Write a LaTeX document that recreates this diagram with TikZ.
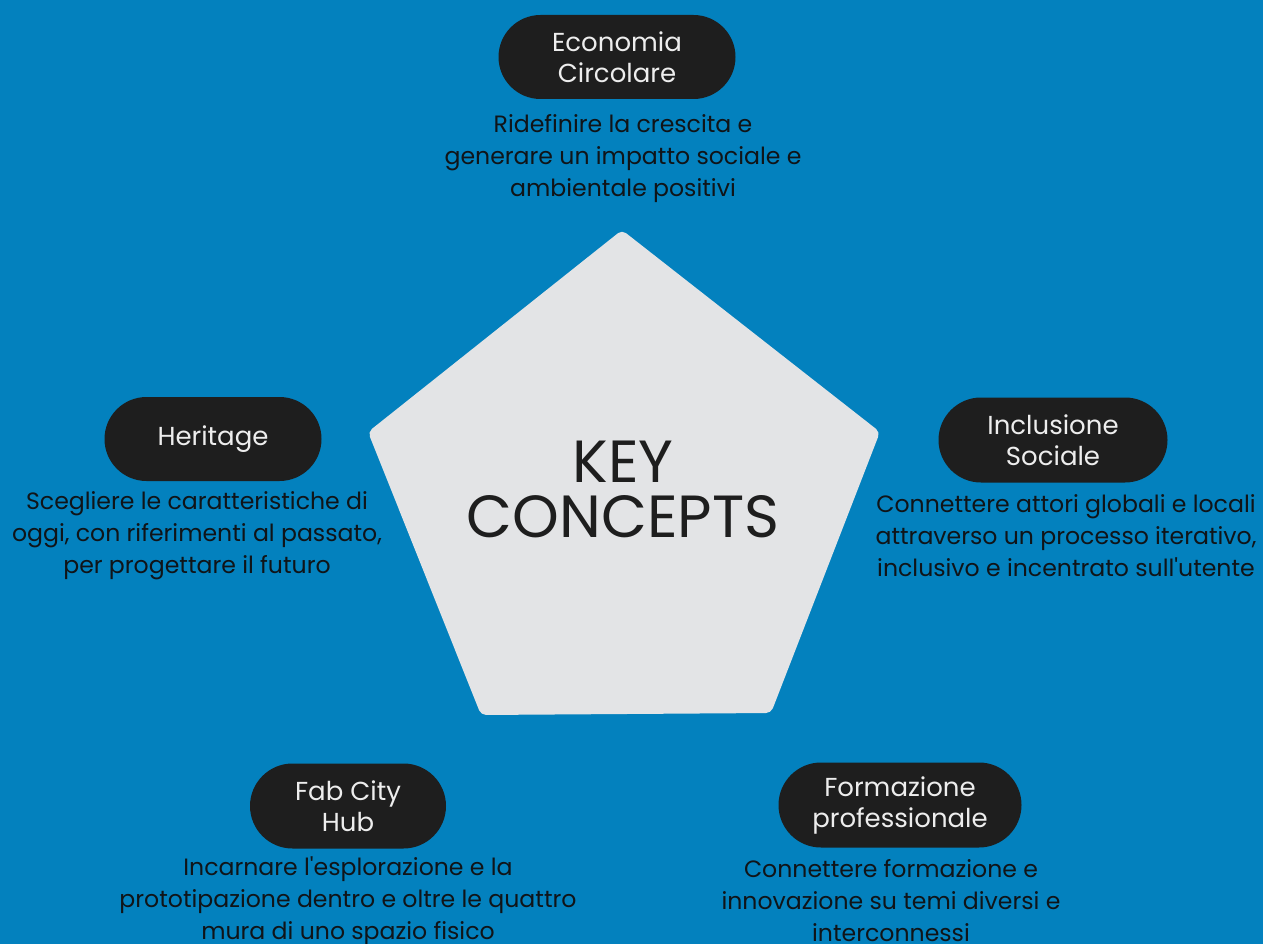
\documentclass[tikz,border=0pt]{standalone}
\usepackage{fontspec}
\setmainfont{Poppins}
\usepackage{tikz}
\usetikzlibrary{positioning, shapes.geometric, shapes.misc}
\definecolor{bgblue}{HTML}{0381BE}
\definecolor{penta}{HTML}{E3E4E6}
\definecolor{pill}{HTML}{1E1E1E}
\definecolor{pilltext}{HTML}{EDEDED}
\definecolor{desctext}{HTML}{101418}
\tikzset{
pillbox/.style={rounded rectangle,fill=pill,text=pilltext,align=center,inner sep=0pt,font=\fontsize{26}{31}\selectfont},
desctext/.style={text=desctext,align=center,inner sep=0pt,font=\fontsize{23.6}{32}\selectfont},
keytext/.style={text=pill,align=center,inner sep=0pt,font=\fontsize{59.5}{55}\selectfont}
}

\begin{document}
\begin{tikzpicture}[x=1pt,y=-1pt]
\useasboundingbox (0,0) rectangle (1263,944);
\fill[bgblue] (0,0) rectangle (1263,944);
%----------------------------------------------------------------------------
% Pentagon
\coordinate (pTop) at (622,230);
\coordinate (pLeft) at (368,432);
\coordinate (pRight) at (880,432);
\coordinate (pBotL) at (481,715);
\coordinate (pBotR) at (771,713);
\fill[penta, rounded corners=5pt] (pTop) -- (pRight) -- (pBotR) -- (pBotL) -- (pLeft) -- cycle;
\node (keyConcepts) [keytext] at (623,489) {KEY\\CONCEPTS};

%----------------------------------------------------------------------------
% Concepts
\node (econ) [pillbox, minimum width=237pt, minimum height=84pt] at (617,57) {Economia\\Circolare};
\node (heritage) [pillbox, minimum width=217pt, minimum height=84pt] at (213,439) {Heritage};
\node (inclusione) [pillbox, minimum width=229pt, minimum height=85pt] at (1053,440) {Inclusione\\Sociale};
\node (fabCity) [pillbox, minimum width=196pt, minimum height=85pt] at (348,806) {Fab City\\Hub};
\node (formazione) [pillbox, minimum width=243pt, minimum height=85pt] at (900,805) {Formazione\\professionale};

%----------------------------------------------------------------------------
% Notes
\node (econNote) [desctext] at (623,159) {Ridefinire la crescita e\\generare un impatto sociale e\\ambientale positivi};
\node (heritageNote) [desctext] at (197,536) {Scegliere le caratteristiche di\\oggi, con riferimenti al passato,\\per progettare il futuro};
\node (inclusioneNote) [desctext] at (1066,536) {Connettere attori globali e locali\\attraverso un processo iterativo,\\inclusivo e incentrato sull\textquotesingle utente};
\node (fabCityNote) [desctext] at (348,901) {Incarnare l\textquotesingle esplorazione e la\\prototipazione dentro e oltre le quattro\\mura di uno spazio fisico};
\node (formazioneNote) [desctext] at (891,901) {Connettere formazione e\\innovazione su temi diversi e\\interconnessi};

\end{tikzpicture}
\end{document}
